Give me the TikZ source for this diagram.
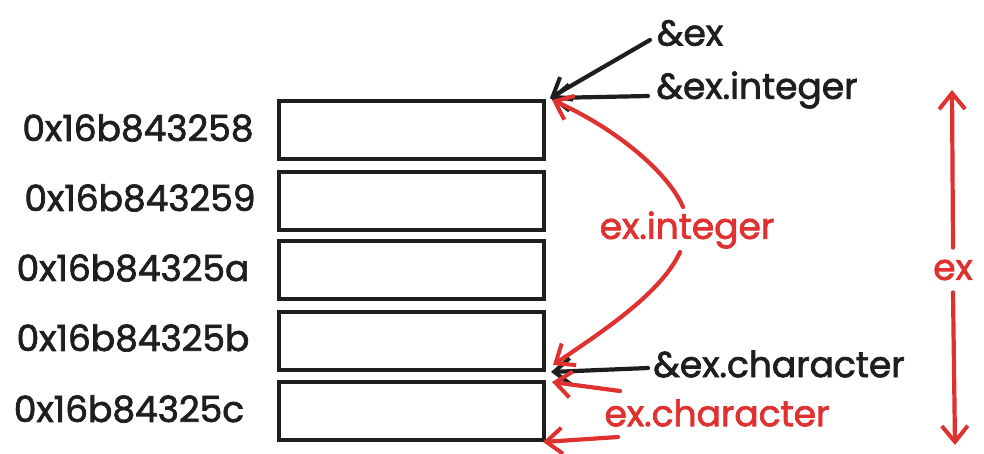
\documentclass[tikz,border=0pt]{standalone}
\usepackage{fontspec}
\setmainfont{Poppins}[FakeBold=2]
\usetikzlibrary{arrows.meta}
\definecolor{exred}{HTML}{E03131}
\definecolor{exblack}{HTML}{1E1E1E}
\begin{document}
\begin{tikzpicture}[x=1pt,y=-1pt,
  cell/.style={draw=exblack, line width=4.2pt, minimum width=265pt, minimum height=58pt, inner sep=0pt, anchor=north west},
  lbl/.style={font=\fontsize{36}{42}\selectfont, inner sep=0pt},
  addr/.style={lbl, text=exblack},
  rlbl/.style={lbl, text=exred},
  tip/.style={-{Straight Barb[length=16pt,width=26pt,line width=4pt]}},
  blk/.style={draw=exblack, line width=4.2pt, line cap=round, tip},
  rarr/.style={draw=exred, line width=4.2pt, line cap=round, tip},
]
\useasboundingbox (0,0) rectangle (984,453);
% memory cells
\node[cell] (b1) at (277,99) {};
\node[cell] (b2) at (277,170) {};
\node[cell] (b3) at (277,239) {};
\node[cell] (b4) at (277,310) {};
\node[cell] (b5) at (277,380) {};
% addresses
\node[addr] (a1) at (138,128) {0x16b843258};
\node[addr] (a2) at (140,198) {0x16b843259};
\node[addr] (a3) at (133,268) {0x16b84325a};
\node[addr] (a4) at (133,338) {0x16b84325b};
\node[addr] (a5) at (129,409) {0x16b84325c};
% black labels
\node[addr] (pex) at (690,33) {\&ex};
\node[addr] (pint) at (757,90) {\&ex.integer};
\node[addr] (pchar) at (779,364) {\&ex.character};
% red labels
\node[rlbl] (eint) at (687,230) {ex.integer};
\node[rlbl] (echar) at (717,413) {ex.character};
\node[rlbl] (ex) at (953,270) {ex};
% anchor coordinates
\coordinate (t1) at (550,98);
\coordinate (t1r) at (552,100);
\coordinate (t5) at (551,372);
\coordinate (t5r) at (553,365);
\coordinate (t5a) at (552,382);
\coordinate (t5b) at (543,442);
\coordinate (sex) at (650,40);
\coordinate (sint) at (648,96);
\coordinate (schar) at (648,368);
\coordinate (eiu) at (683,207);
\coordinate (eid) at (680,252);
\coordinate (sca) at (620,391);
\coordinate (scb) at (618,437);
\coordinate (extop) at (952,90);
\coordinate (exbot) at (955,445);
% black pointers
\draw[blk] (sex) -- (t1);
\draw[blk] (sint) -- (t1);
\draw[blk] (schar) -- (t5);
% red connectors
\draw[rarr] (eiu) .. controls (668,172) and (615,128) .. (t1r);
\draw[rarr] (eid) .. controls (662,292) and (605,330) .. (t5r);
\draw[rarr] (sca) -- (t5a);
\draw[rarr] (scb) -- (t5b);
\draw[rarr] (ex.north) ++(0,-12) -- (extop);
\draw[rarr] (ex.south) ++(0,12) -- (exbot);
\end{tikzpicture}
\end{document}
